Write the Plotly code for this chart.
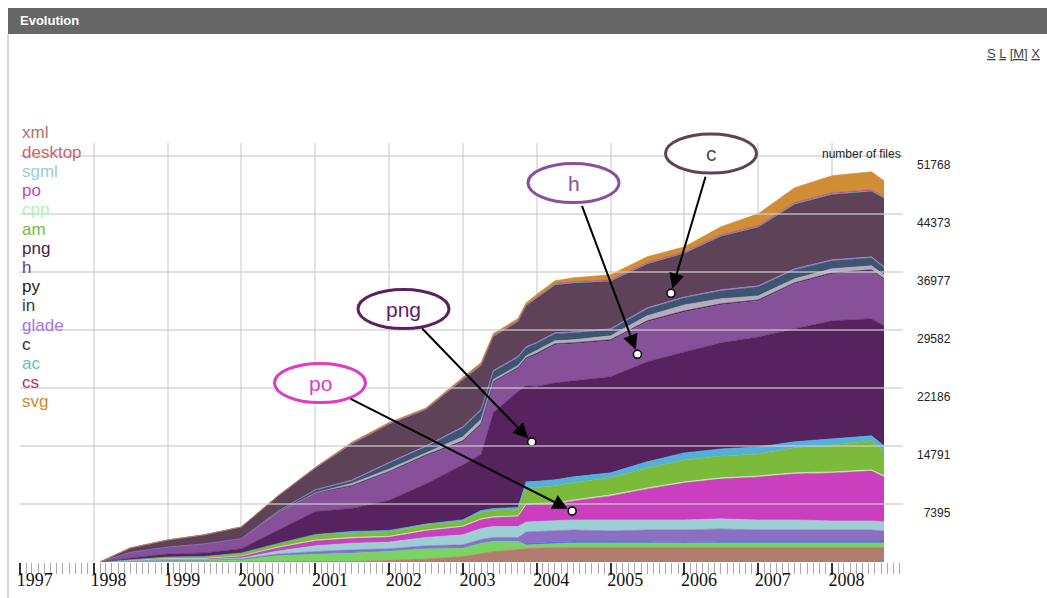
import plotly.graph_objects as go

# ---------------- data (number of files) ----------------
dates = ["1998-02-01", "1998-07-01", "1999-01-01", "1999-07-01", "2000-01-01", "2000-07-01",
         "2001-01-01", "2001-07-01", "2002-01-01", "2002-07-01", "2003-01-01", "2003-04-01",
         "2003-06-01", "2003-10-01", "2003-11-10", "2004-01-01", "2004-04-01", "2004-07-01",
         "2005-01-01", "2005-07-01", "2006-01-01", "2006-07-01", "2007-01-01", "2007-07-01",
         "2008-01-01", "2008-07-15", "2008-09-15"]

xml = [0, 0, 0, 0, 0, 0, 0, 0, 130, 320, 640, 1020, 1280, 1530, 1660, 1720, 1790, 1790, 1790, 1790,
       1790, 1790, 1790, 1790, 1790, 1790, 1790]
desktop = [0, 0, 0, 0, 0, 60, 60, 60, 50, 40] + [30] * 17
other_green = [0, 130, 260, 260, 380, 830, 960, 1090, 1230, 1360, 1120, 1370, 1370, 1120, 480, 480, 480,
               610, 610, 610, 610, 610, 610, 610, 610, 610, 610]
other_blue = [0, 0, 0, 0, 0, 0, 60, 60, 60, 60, 60, 60, 60, 60, 260, 260, 260, 260, 260, 260, 130, 260,
              260, 260, 260, 260, 260]
other_violet = [0, 0, 0, 0, 0, 130, 260, 340, 220, 290, 340, 380, 380, 380, 1400, 1400, 1400, 1400, 1280,
                1400, 1530, 1530, 1400, 1400, 1400, 1400, 1280]
sgml = [0, 0, 60, 60, 130, 380, 730, 850, 850, 1060, 1280, 1400, 1400, 1400, 1280, 1280, 1280, 1280, 1400,
        1280, 1280, 1280, 1280, 1280, 1150, 1150, 1150]
po = [0, 60, 130, 130, 260, 450, 640, 640, 640, 850, 1020, 1150, 1150, 1280, 2170, 2170, 2170, 2420, 3060,
      3950, 4720, 5100, 5480, 5870, 6120, 6380, 5740]
cpp = [0, 0, 0, 0, 0, 60, 100, 100, 100, 100, 100, 100, 100, 100] + [130] * 13
am = [0, 130, 190, 260, 380, 450, 700, 540, 560, 630, 600, 790, 790, 790, 2040, 2040, 2170, 2170, 2170,
      2550, 2800, 2800, 2800, 3190, 3440, 3700, 3190]
other_sky = [0, 0, 0, 0, 0, 0, 0, 220, 190, 130, 190, 260, 260, 260, 770, 770, 770, 770, 640, 770, 890, 890,
             890, 770, 770, 640, 640]
png = [0, 190, 380, 450, 550, 1660, 2930, 2930, 3830, 5100, 7010, 7140, 12240, 14790, 12240, 12110, 12370,
       12240, 12240, 12750, 12880, 13520, 14030, 14410, 15050, 14920, 15300]
h = [0, 730, 890, 1150, 1280, 2300, 2300, 2810, 3570, 3570, 2930, 3830, 3830, 2930, 3440, 4080, 4850, 4720,
     4590, 5100, 5100, 4850, 4590, 5740, 5990, 6120, 5870]
py = [0, 0, 0, 0, 0, 0, 60, 120, 120, 120] + [130] * 17
other_dash = [0, 0, 0, 0, 0, 0, 0, 260, 300, 300, 510, 510, 250, 250, 250, 380, 380, 380, 510, 640, 760, 640,
              510, 510, 510, 510, 510]
in_ = [0, 0, 0, 0, 0, 190, 360, 340, 750, 750, 1160, 1160, 1030, 1030, 1030, 900, 900, 900, 770, 900, 900,
       1020, 1150, 1150, 1020, 1020, 900]
glade = [0, 0, 0, 0, 0, 0, 60, 80, 100, 100] + [120] * 11 + [130] * 5 + [120]
c = [0, 550, 890, 1150, 1490, 1910, 2740, 4620, 4870, 4620, 5990, 5610, 4330, 4460, 5230, 5590, 6090, 6220,
     6080, 5570, 5570, 6830, 7460, 8220, 8340, 8340, 8740]
ac = [0, 0, 0, 0, 0, 0, 30, 40, 40, 40] + [50] * 6 + [60] * 6 + [70] * 5
cs = [0, 0, 0, 0, 0, 0, 40, 60, 60, 60, 80, 80, 80, 80, 80, 100, 100, 100, 110, 110, 110, 120, 120, 130, 130,
      130, 120]
svg = [0, 0, 0, 0, 0, 60, 60, 130, 130, 130, 190, 250, 250, 250, 250, 380, 380, 510, 640, 770, 640, 1020,
       1530, 1910, 2170, 2300, 2040]

# stacking order, bottom to top: (name, values, fill colour)
layers = [
    ("xml", xml, "#b27d6e"),
    ("desktop", desktop, "#d65a5e"),
    ("other_green", other_green, "#7bd364"),
    ("other_blue", other_blue, "#5b6fe6"),
    ("other_violet", other_violet, "#8c6ec3"),
    ("sgml", sgml, "#9bcfd3"),
    ("po", po, "#c93fbd"),
    ("cpp", cpp, "#c4f3b6"),
    ("am", am, "#7cba3c"),
    ("other_sky", other_sky, "#52b1dc"),
    ("png", png, "#56235f"),
    ("h", h, "#87519a"),
    ("py", py, "#2b2440"),
    ("other_dash", other_dash, "#b9abbd"),
    ("in", in_, "#3c5671"),
    ("glade", glade, "#a97ae8"),
    ("c", c, "#5d4258"),
    ("ac", ac, "#4fb8b0"),
    ("cs", cs, "#c13e8a"),
    ("svg", svg, "#d18c36"),
]

legend_names = ["xml", "desktop", "sgml", "po", "cpp", "am", "png", "h", "py", "in", "glade", "c", "ac", "cs", "svg"]
legend_colors = ["#a8746c", "#d2606a", "#9ccdd6", "#c843c0", "#b6efb8", "#7ab842", "#4b2152", "#6b3a82",
                 "#222222", "#2b3b52", "#a673e2", "#3d2c3a", "#5fc0c0", "#b2306e", "#d08a30"]

y_ticks = [7395, 14791, 22186, 29582, 36977, 44373, 51768]
year_range = ["1997-01-01", "2008-12-18"]

# callouts: label, pointed date, pointed value, ellipse colour
callouts = [
    ("c", "2005-10-27", 34260, "#5d4258"),
    ("h", "2005-05-14", 26480, "#8a4f9c"),
    ("png", "2003-12-08", 15300, "#5c1f61"),
    ("po", "2004-06-25", 6500, "#e13ac6"),
]
# ---------------- layout geometry (pixels) ----------------
W, H = 1047, 598
L, R, T, B = 20, 144, 143, 36
PW, PH = W - L - R, H - T - B
YMAX = PH * 7395 / 58.0


def xp(x):
    return (x - L) / PW


def yp(y):
    return (H - B - y) / PH


fig = go.Figure()
for name, vals, col in layers:
    fig.add_trace(go.Scatter(
        x=dates, y=vals, name=name, stackgroup="one", mode="lines",
        line=dict(width=0.6, color=col), fillcolor=col, hoverinfo="skip", showlegend=False))

# callout end points
fig.add_trace(go.Scatter(
    x=[cd[1] for cd in callouts], y=[cd[2] for cd in callouts], mode="markers",
    marker=dict(size=8, color="white", line=dict(color="black", width=1.5)),
    hoverinfo="skip", showlegend=False))

shapes = []
annotations = []

# title bar and panel border
shapes.append(dict(type="rect", xref="paper", yref="paper", x0=xp(8), x1=xp(1047), y0=yp(34), y1=yp(8),
                   fillcolor="#666666", line=dict(width=0), layer="above"))
shapes.append(dict(type="line", xref="paper", yref="paper", x0=xp(8), x1=xp(8), y0=yp(598), y1=yp(34),
                   line=dict(color="#d4d4d4", width=2), layer="above"))
annotations.append(dict(xref="paper", yref="paper", x=xp(18), y=yp(21), text="<b>Evolution</b>",
                        showarrow=False, xanchor="left", yanchor="middle",
                        font=dict(family="Liberation Sans, Arial", size=13, color="white")))
annotations.append(dict(xref="paper", yref="paper", x=xp(1042), y=yp(54),
                        text="<span style='text-decoration:underline'>S</span> "
                             "<span style='text-decoration:underline'>L</span> "
                             "<span style='text-decoration:underline'>[M]</span> "
                             "<span style='text-decoration:underline'>X</span>",
                        showarrow=False, xanchor="right", yanchor="middle",
                        font=dict(family="Liberation Sans, Arial", size=13, color="#444444")))
annotations.append(dict(xref="paper", yref="paper", x=xp(903), y=yp(154), text="number of files",
                        showarrow=False, xanchor="right", yanchor="middle",
                        font=dict(family="Liberation Sans, Arial", size=12, color="#222222")))

# horizontal grid lines drawn over the areas
for v in y_ticks:
    shapes.append(dict(type="line", xref="paper", yref="y", x0=0, x1=1, y0=v, y1=v,
                       line=dict(color="rgba(205,205,205,0.62)", width=2), layer="above"))

# legend as coloured text
for i, (nm, col) in enumerate(zip(legend_names, legend_colors)):
    annotations.append(dict(xref="paper", yref="paper", x=xp(20), y=yp(133 + i * 19.2), text=nm,
                            showarrow=False, xanchor="left", yanchor="middle",
                            font=dict(family="Liberation Sans, Arial", size=17, color=col)))

# callout bubbles and arrows (bubble centre in px, arrow tail offset in px)
bubbles = {"c": (711, 153.5), "h": (573.5, 183), "png": (403.5, 309), "po": (320, 383)}
tails = {"c": (35, -118), "h": (-56, -150), "png": (-111, -115), "po": (-223, -113)}
for lab, dx, dy, col in callouts:
    cx, cy = bubbles[lab]
    rx, ry = 45.5, 19.5
    ax, ay = tails[lab]
    annotations.append(dict(xref="x", yref="y", x=dx, y=dy, ax=ax, ay=ay, text="", showarrow=True,
                            arrowhead=2, arrowsize=1.5, arrowwidth=2, arrowcolor="black", standoff=5))
    shapes.append(dict(type="circle", xref="paper", yref="paper", x0=xp(cx - rx), x1=xp(cx + rx),
                       y0=yp(cy + ry), y1=yp(cy - ry), fillcolor="white",
                       line=dict(color=col, width=3), layer="above"))
    annotations.append(dict(xref="paper", yref="paper", x=xp(cx), y=yp(cy), text=lab, showarrow=False,
                            xanchor="center", yanchor="middle",
                            font=dict(family="Liberation Sans, Arial", size=21, color=col)))

fig.update_layout(
    width=W, height=H, margin=dict(l=L, r=R, t=T, b=B, autoexpand=False),
    paper_bgcolor="white", plot_bgcolor="white",
    shapes=shapes, annotations=annotations, hovermode=False,
    xaxis=dict(type="date", range=year_range, tick0="1997-01-01", dtick="M12", tickformat="%Y",
               automargin=False,
               showgrid=True, gridcolor="#e2e2e2", gridwidth=2, zeroline=False, showline=False,
               ticks="outside", ticklen=12, tickwidth=1.5, tickcolor="#333333",
               ticklabelposition="outside right", ticklabelstandoff=1, ticklabelshift=-4,
               tickfont=dict(family="Liberation Serif, Times New Roman", size=18, color="#111111"),
               minor=dict(dtick="M1", ticks="outside", ticklen=11, tickwidth=1.2, tickcolor="#aaaaaa",
                          showgrid=False)),
    yaxis=dict(range=[0, YMAX], side="right", tickvals=y_ticks, automargin=False,
               ticktext=[("\u2007" if v < 10000 else "") + str(v) for v in y_ticks],
               showgrid=False, zeroline=False, showline=False, ticks="",
               ticklabelposition="outside bottom", ticklabelstandoff=13,
               tickfont=dict(family="Liberation Sans, Arial", size=12, color="#222222")),
)

fig.write_html("out.html", config={"displayModeBar": False},
               post_script="document.body.style.margin='0';document.body.style.overflow='hidden';")
